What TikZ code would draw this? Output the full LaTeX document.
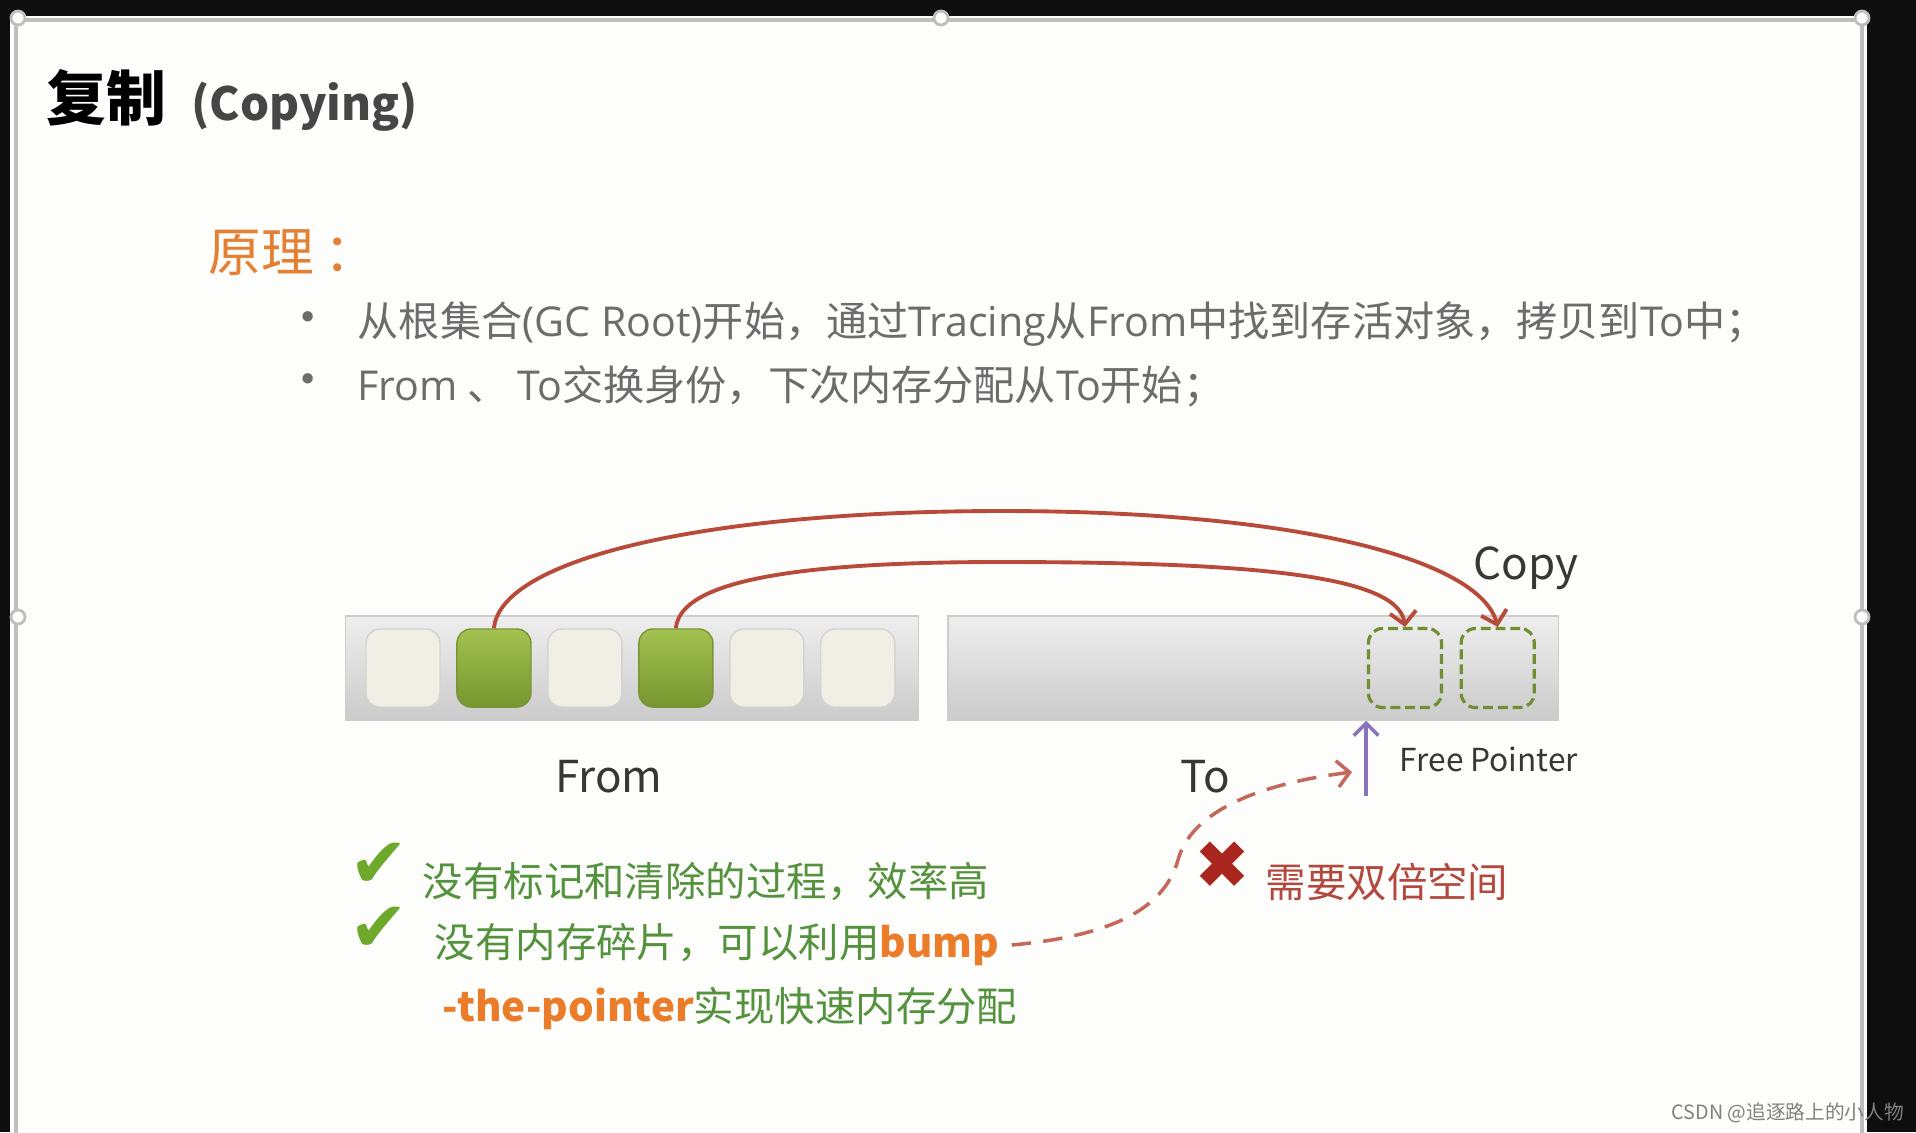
\documentclass[tikz,border=0pt]{standalone}
\usepackage{fontspec}
\setmainfont{Noto Sans CJK SC}
\newfontfamily\symfont{DejaVu Sans}
\newfontfamily\lat{Open Sans}
\usetikzlibrary{arrows.meta, positioning}

\definecolor{screenbg}{RGB}{14,14,14}
\definecolor{slidebg}{RGB}{253,254,252}
\definecolor{slideedge}{RGB}{190,190,190}
\definecolor{titlegray}{RGB}{70,70,70}
\definecolor{headorange}{RGB}{228,128,52}
\definecolor{bulletgray}{RGB}{108,108,108}
\definecolor{bartop}{RGB}{238,238,238}
\definecolor{barbot}{RGB}{203,203,203}
\definecolor{barrim}{RGB}{205,205,205}
\definecolor{cellfill}{RGB}{241,239,229}
\definecolor{cellrim}{RGB}{212,212,206}
\definecolor{livetop}{RGB}{163,194,80}
\definecolor{livebot}{RGB}{118,150,48}
\definecolor{livedark}{RGB}{120,150,55}
\definecolor{slotgreen}{RGB}{112,142,50}
\definecolor{copyred}{RGB}{184,74,58}
\definecolor{dashred}{RGB}{196,104,92}
\definecolor{ptrpurple}{RGB}{136,116,186}
\definecolor{labelgray}{RGB}{55,55,55}
\definecolor{notegreen}{RGB}{84,146,62}
\definecolor{bumporange}{RGB}{234,124,42}
\definecolor{checkgreen}{RGB}{110,168,45}
\definecolor{crossred}{RGB}{168,38,30}
\definecolor{warnred}{RGB}{178,72,62}
\definecolor{markgray}{RGB}{128,128,128}

\begin{document}
\begin{tikzpicture}[
  x=0.01cm, y=-0.01cm,
  cell/.style={rectangle, draw=cellrim, rounded corners=4pt, fill=cellfill,
               minimum width=0.74cm, minimum height=0.78cm, inner sep=0pt},
  live/.style={cell, draw=livedark, top color=livetop, bottom color=livebot},
  slot/.style={rectangle, draw=slotgreen, dash pattern=on 2.8pt off 1.4pt, line width=0.9pt,
               rounded corners=4pt, minimum width=0.73cm, minimum height=0.79cm, inner sep=0pt},
  bar/.style={rectangle, draw=barrim, top color=bartop, bottom color=barbot,
              minimum height=1.04cm, inner sep=0pt},
  barlabel/.style={font=\fontsize{12.5}{15}\selectfont, text=labelgray, inner sep=0pt},
  bullettext/.style={anchor=west, font=\fontsize{11.7}{14}\selectfont, text=bulletgray, inner sep=0pt},
  dot/.style={text=bulletgray, font=\fontsize{14}{16}\selectfont, inner sep=0pt},
  note/.style={anchor=west, font=\fontsize{11.5}{14}\selectfont, text=notegreen, inner sep=0pt},
  tick/.style={font=\symfont\fontsize{20}{21}\selectfont, text=checkgreen, inner sep=0pt},
  xmark/.style={font=\symfont\fontsize{19}{20}\selectfont, text=crossred, inner sep=0pt},
  handle/.style={draw=slideedge, fill=slidebg, line width=0.8pt},
  copyarrow/.style={-{Straight Barb[length=3.5pt, width=7.5pt]}, line width=1.1pt, draw=copyred},
  ptrarrow/.style={-{Straight Barb[length=3.5pt, width=7pt]}, line width=1pt, draw=ptrpurple},
  dasharrow/.style={-{Straight Barb[length=3.5pt, width=7.5pt]}, line width=1pt, draw=dashred,
                    dash pattern=on 5.5pt off 3.5pt},
]
  \useasboundingbox (0,0) rectangle (1916,1132);
  \fill[screenbg] (0,0) rectangle (1916,1132);

  % slide
  \fill[slidebg] (10,16) rectangle (1867,1140);
  \draw[slideedge, line width=1.2pt] (16,1140) |- (1862,20) -- (1862,1140);
  \draw[handle] (941,18) circle [radius=0.07cm];
  \draw[handle] (18,617) circle [radius=0.07cm];
  \draw[handle] (1862,617) circle [radius=0.07cm];
  \draw[handle] (18,18) circle [radius=0.07cm];
  \draw[handle] (1862,18) circle [radius=0.07cm];

  % heading
  \node[anchor=west, font=\fontsize{17}{20}\selectfont\bfseries, inner sep=0pt] (title) at (46,98) {复制};
  \node[anchor=base west, font=\fontsize{13}{16}\selectfont\bfseries, text=titlegray, inner sep=0pt]
    (copying) at ([xshift=0.24cm]title.base east) {(Copying)};
  \node[anchor=west, font=\fontsize{15}{18}\selectfont, text=headorange, inner sep=0pt] (principle) at (208,253) {原理\hspace{0.1cm}：};

  \node[dot] (dot1) at (308,324) {•};
  \node[bullettext] (b1) at (357,324) {从根集合{\lat (GC Root)}开始，通过{\lat Tracing}从{\lat From}中找到存活对象，拷贝到{\lat To}中；};
  \node[dot] (dot2) at (308,386) {•};
  \node[bullettext] (b2) at (357,386) {{\lat From} 、 {\lat To}交换身份，下次内存分配从{\lat To}开始；};

  % from space
  \node[bar, minimum width=5.73cm] (from) at (632,668) {};
  \node[cell] (c1) at (403,668) {};
  \node[live, right=0.155cm of c1] (c2) {};
  \node[cell, right=0.155cm of c2] (c3) {};
  \node[live, right=0.155cm of c3] (c4) {};
  \node[cell, right=0.155cm of c4] (c5) {};
  \node[cell, right=0.155cm of c5] (c6) {};

  % to space
  \node[bar, minimum width=6.10cm, right=0.28cm of from] (to) {};
  \node[slot] (s1) at (1405,668) {};
  \node[slot, right=0.165cm of s1] (s2) {};

  \draw[copyarrow] (c2.north) .. controls (500,560) and (700,511) .. (1002,511)
                   .. controls (1300,511) and (1480,560) .. (s2.north);
  \draw[copyarrow] (c4.north) .. controls (680,580) and (800,562) .. (1000,562)
                   .. controls (1250,562) and (1398,575) .. (s1.north);

  \node[barlabel, anchor=west] (copylabel) at (1473,568) {Copy};
  \node[barlabel] (fromlabel) at (609,777) {From};
  \node[barlabel] (tolabel) at (1205,777) {To};

  \coordinate (fp) at (1366,796);
  \draw[ptrarrow] (fp) -- (fp |- to.south);
  \node[barlabel, anchor=west, font=\fontsize{9}{11}\selectfont] (fplabel) at (1399,759) {Free Pointer};

  % pros and cons
  \node[tick] (k1) at (379,865) {✔};
  \node[note] (n1) at (422,882) {没有标记和清除的过程，效率高};
  \node[tick] (k2) at (379,929) {✔};
  \node[note] (n2) at (434,945) {没有内存碎片，可以利用\textcolor{bumporange}{\bfseries bump}};
  \node[note] (n3) at (442,1009) {\textcolor{bumporange}{\bfseries -the-pointer}实现快速内存分配};

  \node[xmark] (x1) at (1222,865) {✖};
  \node[note, text=warnred] (r1) at (1265,882) {需要双倍空间};

  \coordinate (fphit) at (1352,772);
  \draw[dasharrow] ([xshift=0.12cm]n2.east) .. controls (1120,935) and (1165,905) .. (1178,860)
                   .. controls (1190,815) and (1250,785) .. (fphit);

  \node[anchor=west, font=\fontsize{5.6}{7}\selectfont, text=markgray, inner sep=0pt] (mark) at (1671,1113) {CSDN @追逐路上的小人物};
\end{tikzpicture}
\end{document}
